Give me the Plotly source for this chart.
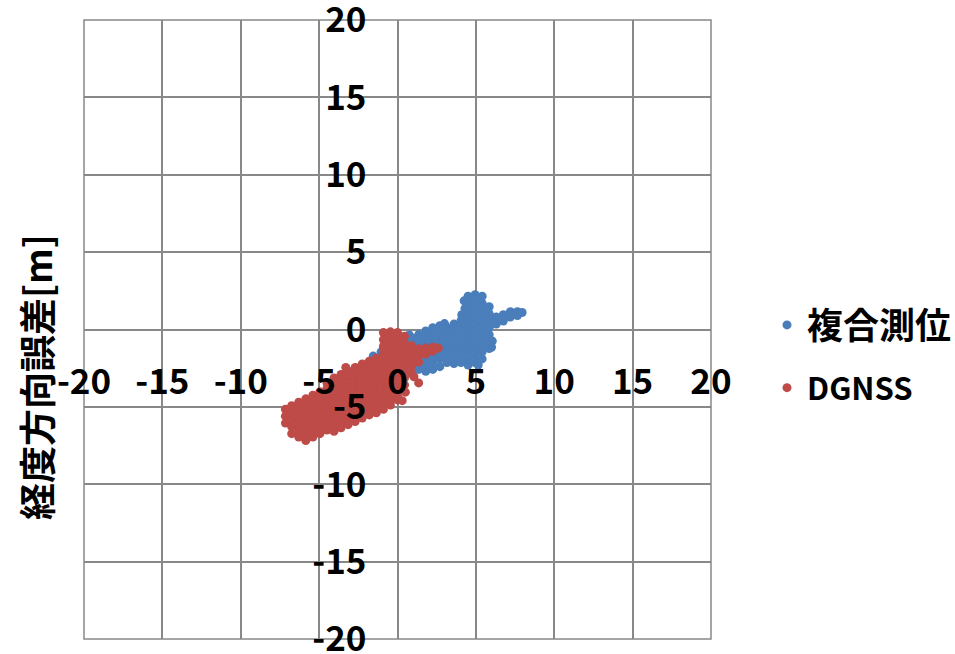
import plotly.graph_objects as go

# Axis ticks shared by both axes
tick_values = [-20, -15, -10, -5, 0, 5, 10, 15, 20]
tick_labels = ["-20", "-15", "-10", "-5", "0", "5", "10", "15", "20"]

y_title = "経度方向誤差[m]"
series_names = ["複合測位", "DGNSS"]
series_colors = ["#4A7EBB", "#BE4B48"]

# 複合測位 (combined positioning) error samples [m]
fukugo_x = [
    -1.55, -1.05, -0.5, 0.05, 0.45, -0.2, 0.3,
    0.75,
    0.9, 0.9, 0.9, 0.9, 0.9, 0.9,
    1.35, 1.35, 1.35, 1.35, 1.35, 1.35,
    1.8, 1.8, 1.8, 1.8, 1.8, 1.8, 1.8,
    2.25, 2.25, 2.25, 2.25, 2.25, 2.25, 2.25,
    2.7, 2.7, 2.7, 2.7, 2.7, 2.7, 2.7,
    3.0, 3.15, 3.15, 3.15, 3.15, 3.15, 3.15,
    3.6, 3.6, 3.6, 3.6, 3.6, 3.6, 3.6,
    4.05, 4.05, 4.05, 4.05, 4.05, 4.05, 4.05,
    4.25, 4.3, 4.1,
    4.5, 4.5, 4.5, 4.5, 4.5, 4.5, 4.5, 4.5, 4.5, 4.5, 4.5,
    4.95, 4.95, 4.95, 4.95, 4.95, 4.95, 4.95, 4.95, 4.95, 4.95, 4.95,
    5.4, 5.4, 5.4, 5.4, 5.4, 5.4, 5.4, 5.4, 5.4, 5.4,
    5.15,
    5.85, 5.85, 5.85, 5.85, 5.85, 5.85, 5.85,
    6.3, 6.3, 6.05, 6.0,
    6.75, 6.75,
    7.2, 7.2,
    7.65, 7.65,
    7.95,
]
fukugo_y = [
    -1.72, -1.45, -1.2, -0.95, -0.7, -1.7, -1.4,
    -0.35,
    -0.55, -1.0, -1.45, -1.9, -2.35, -2.8,
    -0.33, -0.78, -1.23, -1.68, -2.13, -2.58,
    -0.1, -0.55, -1.0, -1.45, -1.9, -2.35, -2.7,
    0.12, -0.33, -0.78, -1.23, -1.68, -2.13, -2.58,
    0.25, -0.1, -0.55, -1.0, -1.45, -1.9, -2.4,
    0.38, 0.12, -0.33, -0.78, -1.23, -1.68, -2.13,
    0.35, -0.1, -0.55, -1.0, -1.45, -1.9, -2.2,
    0.57, 0.12, -0.33, -0.78, -1.23, -1.68, -2.13,
    1.85, 1.35, 0.95,
    2.15, 1.7, 1.25, 0.8, 0.35, -0.1, -0.55, -1.0, -1.45, -1.9, -2.3,
    2.25, 1.92, 1.47, 1.02, 0.57, 0.12, -0.33, -0.78, -1.23, -1.68, -2.13,
    2.15, 1.7, 1.25, 0.8, 0.35, -0.1, -0.55, -1.0, -1.45, -1.9,
    -2.3,
    1.47, 1.02, 0.57, 0.12, -0.33, -0.78, -1.23,
    0.8, 0.35, -0.75, -1.15,
    0.95, 0.55,
    1.15, 0.8,
    1.15, 0.9,
    1.1,
]

# DGNSS error samples [m]
dgnss_x = [
    -7.15, -7.15, -7.15,
    -6.75, -6.75, -6.75, -6.75, -6.75,
    -6.3, -6.3, -6.3, -6.3, -6.3, -6.3,
    -5.85, -5.85, -5.85, -5.85, -5.85, -5.85, -5.85,
    -5.4, -5.4, -5.4, -5.4, -5.4, -5.4, -5.4,
    -4.95, -4.95, -4.95, -4.95, -4.95, -4.95, -4.95,
    -4.5, -4.5, -4.5, -4.5, -4.5, -4.5, -4.5, -4.5,
    -4.05, -4.05, -4.05, -4.05, -4.05, -4.05, -4.05, -4.05, -4.05,
    -3.6, -3.6, -3.6, -3.6, -3.6, -3.6, -3.6, -3.6, -3.6,
    -3.3, -3.15, -3.15, -3.15, -3.15, -3.15, -3.15, -3.15, -3.15, -3.15,
    -2.7, -2.7, -2.7, -2.7, -2.7, -2.7, -2.7, -2.7, -2.7,
    -2.25, -2.25, -2.25, -2.25, -2.25, -2.25, -2.25, -2.25, -2.25,
    -1.8, -1.8, -1.8, -1.8, -1.8, -1.8, -1.8, -1.8, -1.8,
    -1.35, -1.35, -1.35, -1.35, -1.35, -1.35, -1.35, -1.35, -1.35,
    -0.9, -0.9, -0.9, -0.9, -0.9, -0.9, -0.9, -0.9, -0.9, -0.9, -0.9, -0.9,
    -0.45, -0.45, -0.45, -0.45, -0.45, -0.45, -0.45, -0.45, -0.45, -0.45, -0.45, -0.45,
    0.0, 0.0, 0.0, 0.0, 0.0, 0.0, 0.0, 0.0, 0.0, 0.0, 0.0,
    0.45, 0.45, 0.45, 0.45, 0.45, 0.45, 0.45, 0.45,
    0.9, 0.9, 0.9, 0.9, 0.9,
    1.35, 1.35, 1.35,
    1.8, 1.8,
    2.25, 2.25,
    2.6,
    0.3, 0.5, 1.35, 1.05,
]
dgnss_y = [
    -5.15, -5.6, -6.05,
    -4.93, -5.38, -5.83, -6.28, -6.73,
    -4.7, -5.15, -5.6, -6.05, -6.5, -6.95,
    -4.48, -4.93, -5.38, -5.83, -6.28, -6.73, -7.18,
    -4.25, -4.7, -5.15, -5.6, -6.05, -6.5, -6.95,
    -4.03, -4.48, -4.93, -5.38, -5.83, -6.28, -6.73,
    -3.45, -3.8, -4.25, -4.7, -5.15, -5.6, -6.05, -6.5,
    -3.13, -3.58, -4.03, -4.48, -4.93, -5.38, -5.83, -6.28, -6.58,
    -2.9, -3.35, -3.8, -4.25, -4.7, -5.15, -5.6, -6.05, -6.35,
    -2.45, -2.68, -3.13, -3.58, -4.03, -4.48, -4.93, -5.38, -5.83, -6.15,
    -2.45, -2.9, -3.35, -3.8, -4.25, -4.7, -5.15, -5.6, -5.95,
    -2.23, -2.68, -3.13, -3.58, -4.03, -4.48, -4.93, -5.38, -5.72,
    -2.05, -2.45, -2.9, -3.35, -3.8, -4.25, -4.7, -5.15, -5.52,
    -1.85, -2.23, -2.68, -3.13, -3.58, -4.03, -4.48, -4.93, -5.38,
    -0.2, -0.65, -1.1, -1.55, -2.0, -2.45, -2.9, -3.35, -3.8, -4.25, -4.7, -5.15,
    -0.15, -0.43, -0.88, -1.33, -1.78, -2.23, -2.68, -3.13, -3.58, -4.03, -4.48, -4.88,
    -0.2, -0.65, -1.1, -1.55, -2.0, -2.45, -2.9, -3.35, -3.8, -4.25, -4.55,
    -0.43, -0.88, -1.33, -1.78, -2.23, -2.68, -3.13, -3.58,
    -1.05, -1.5, -1.95, -2.4, -2.85,
    -1.25, -1.7, -2.1,
    -1.2, -1.58,
    -1.15, -1.4,
    -1.2,
    -4.6, -4.05, -3.45, -3.05,
]

FONT = "Noto Sans CJK JP, Noto Sans, sans-serif"
GRID = "#888888"

fig = go.Figure()
fig.add_trace(go.Scatter(
    x=fukugo_x, y=fukugo_y, mode="markers", name=series_names[0],
    marker=dict(color=series_colors[0], size=9, line=dict(width=0)),
    legend="legend", showlegend=True,
))
fig.add_trace(go.Scatter(
    x=dgnss_x, y=dgnss_y, mode="markers", name=series_names[1],
    marker=dict(color=series_colors[1], size=9, line=dict(width=0)),
    legend="legend2", showlegend=True,
))

axis_common = dict(
    range=[-20, 20],
    tickmode="array",
    tickvals=tick_values,
    ticktext=tick_labels,
    showgrid=True,
    gridcolor=GRID,
    gridwidth=1.5,
    zeroline=True,
    zerolinecolor=GRID,
    zerolinewidth=1.5,
    showline=False,
    ticks="",
    anchor="free",
    position=0.5,
    ticklabeloverflow="allow",
    tickfont=dict(family=FONT, size=35, color="black", weight="bold"),
    fixedrange=True,
)

legend_common = dict(
    xanchor="left", yanchor="middle",
    bgcolor="rgba(0,0,0,0)", borderwidth=0,
    visible=True,
)

fig.update_layout(
    width=955, height=654,
    margin=dict(l=84, r=244, t=20, b=15, pad=0, autoexpand=False),
    paper_bgcolor="white", plot_bgcolor="white",
    showlegend=True,
    xaxis=dict(**axis_common, side="bottom", ticklabelstandoff=28),
    yaxis=dict(**axis_common, side="left", ticklabelstandoff=31),
    legend=dict(**legend_common, x=1.0893, y=0.5073,
                font=dict(family=FONT, size=36, color="black", weight="bold")),
    legend2=dict(**legend_common, x=1.0893, y=0.4055,
                 font=dict(family=FONT, size=31, color="black", weight="bold")),
    # outer frame of the plotting area
    shapes=[dict(
        type="rect", xref="paper", yref="paper", x0=0, y0=0, x1=1, y1=1,
        line=dict(color=GRID, width=1.5), layer="below",
    )],
    annotations=[dict(
        text=y_title, xref="paper", yref="paper",
        x=-0.0766, y=0.4233, xanchor="center", yanchor="middle",
        textangle=-90, showarrow=False,
        font=dict(family=FONT, size=37, color="black", weight="bold"),
    )],
)

fig.write_html("out.html")
